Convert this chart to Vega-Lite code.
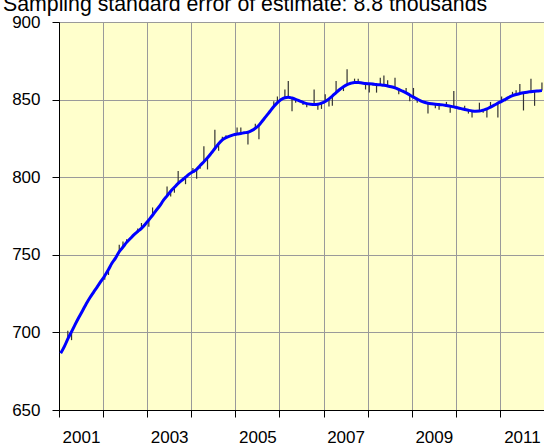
{
  "$schema": "https://vega.github.io/schema/vega-lite/v6.json",
  "width": 485,
  "height": 388,
  "autosize": {"type": "none"},
  "padding": {"left": 59, "top": 22, "right": 0, "bottom": 33},
  "background": "#ffffff",
  "title": {
    "text": "Sampling standard error of estimate: 8.8 thousands",
    "anchor": "start",
    "frame": "group",
    "dx": -56,
    "dy": 21,
    "offset": 2,
    "baseline": "alphabetic",
    "font": "Liberation Sans",
    "fontSize": 21.3,
    "fontWeight": "normal",
    "color": "#000000"
  },
  "config": {
    "view": {"fill": "#FFFFCC", "stroke": "#000000", "strokeWidth": 1},
    "axis": {
      "labelFont": "Liberation Sans",
      "labelFontSize": 17,
      "labelColor": "#000000",
      "domainColor": "#000000",
      "tickColor": "#000000",
      "tickSize": 7,
      "labelPadding": 12,
      "gridColor": "#9a9a9a",
      "gridWidth": 1,
      "title": null
    }
  },
  "data": {
    "values": [
      {"date": "2001-01-15", "trend": 686.5, "sa": 686.5},
      {"date": "2001-02-15", "trend": 691, "sa": 691.5},
      {"date": "2001-03-15", "trend": 695.8, "sa": 701},
      {"date": "2001-04-15", "trend": 700.5, "sa": 695},
      {"date": "2001-05-15", "trend": 705.2, "sa": 705.5},
      {"date": "2001-06-15", "trend": 709.8, "sa": 709.5},
      {"date": "2001-07-15", "trend": 714, "sa": 714.5},
      {"date": "2001-08-15", "trend": 718.5, "sa": 717},
      {"date": "2001-09-15", "trend": 722.5, "sa": 723},
      {"date": "2001-10-15", "trend": 726, "sa": 726},
      {"date": "2001-11-15", "trend": 729.5, "sa": 730},
      {"date": "2001-12-15", "trend": 733, "sa": 733},
      {"date": "2002-01-15", "trend": 736.5, "sa": 734},
      {"date": "2002-02-15", "trend": 740.5, "sa": 737},
      {"date": "2002-03-15", "trend": 744.5, "sa": 745},
      {"date": "2002-04-15", "trend": 748, "sa": 748.5},
      {"date": "2002-05-15", "trend": 752, "sa": 756.5},
      {"date": "2002-06-15", "trend": 755, "sa": 758.5},
      {"date": "2002-07-15", "trend": 758, "sa": 760},
      {"date": "2002-08-15", "trend": 760.5, "sa": 761},
      {"date": "2002-09-15", "trend": 763, "sa": 762.5},
      {"date": "2002-10-15", "trend": 765, "sa": 767},
      {"date": "2002-11-15", "trend": 767, "sa": 770.5},
      {"date": "2002-12-15", "trend": 769.5, "sa": 770},
      {"date": "2003-01-15", "trend": 772.5, "sa": 768},
      {"date": "2003-02-15", "trend": 775.5, "sa": 780.5},
      {"date": "2003-03-15", "trend": 778.5, "sa": 779},
      {"date": "2003-04-15", "trend": 781.5, "sa": 781},
      {"date": "2003-05-15", "trend": 785, "sa": 785.5},
      {"date": "2003-06-15", "trend": 788, "sa": 794},
      {"date": "2003-07-15", "trend": 791, "sa": 787.5},
      {"date": "2003-08-15", "trend": 793.5, "sa": 790},
      {"date": "2003-09-15", "trend": 796, "sa": 804},
      {"date": "2003-10-15", "trend": 798, "sa": 798.5},
      {"date": "2003-11-15", "trend": 800, "sa": 795.5},
      {"date": "2003-12-15", "trend": 802, "sa": 802},
      {"date": "2004-01-15", "trend": 803.5, "sa": 806},
      {"date": "2004-02-15", "trend": 805, "sa": 799},
      {"date": "2004-03-15", "trend": 807.5, "sa": 805.5},
      {"date": "2004-04-15", "trend": 810, "sa": 820},
      {"date": "2004-05-15", "trend": 812.5, "sa": 805},
      {"date": "2004-06-15", "trend": 815.5, "sa": 816},
      {"date": "2004-07-15", "trend": 818.5, "sa": 830.5},
      {"date": "2004-08-15", "trend": 821.5, "sa": 817},
      {"date": "2004-09-15", "trend": 824, "sa": 826},
      {"date": "2004-10-15", "trend": 825.5, "sa": 827},
      {"date": "2004-11-15", "trend": 826.5, "sa": 826.5},
      {"date": "2004-12-15", "trend": 827.3, "sa": 827.5},
      {"date": "2005-01-15", "trend": 827.8, "sa": 832},
      {"date": "2005-02-15", "trend": 828.2, "sa": 832},
      {"date": "2005-03-15", "trend": 828.6, "sa": 828.5},
      {"date": "2005-04-15", "trend": 829, "sa": 821},
      {"date": "2005-05-15", "trend": 830, "sa": 830.5},
      {"date": "2005-06-15", "trend": 831.5, "sa": 834.5},
      {"date": "2005-07-15", "trend": 833.5, "sa": 824.5},
      {"date": "2005-08-15", "trend": 836.5, "sa": 836.5},
      {"date": "2005-09-15", "trend": 839.5, "sa": 840},
      {"date": "2005-10-15", "trend": 842.5, "sa": 842},
      {"date": "2005-11-15", "trend": 845.5, "sa": 849},
      {"date": "2005-12-15", "trend": 848, "sa": 852},
      {"date": "2006-01-15", "trend": 850, "sa": 850.5},
      {"date": "2006-02-15", "trend": 851.2, "sa": 856.5},
      {"date": "2006-03-15", "trend": 851.5, "sa": 862},
      {"date": "2006-04-15", "trend": 851, "sa": 842.5},
      {"date": "2006-05-15", "trend": 850.2, "sa": 848},
      {"date": "2006-06-15", "trend": 849.2, "sa": 849.5},
      {"date": "2006-07-15", "trend": 848.2, "sa": 846.5},
      {"date": "2006-08-15", "trend": 847.4, "sa": 845},
      {"date": "2006-09-15", "trend": 847, "sa": 847.5},
      {"date": "2006-10-15", "trend": 846.8, "sa": 856.5},
      {"date": "2006-11-15", "trend": 847, "sa": 843.5},
      {"date": "2006-12-15", "trend": 847.7, "sa": 844},
      {"date": "2007-01-15", "trend": 848.8, "sa": 853.5},
      {"date": "2007-02-15", "trend": 850.5, "sa": 845.5},
      {"date": "2007-03-15", "trend": 852.3, "sa": 846},
      {"date": "2007-04-15", "trend": 854.5, "sa": 862},
      {"date": "2007-05-15", "trend": 856.5, "sa": 857},
      {"date": "2007-06-15", "trend": 858.3, "sa": 855.5},
      {"date": "2007-07-15", "trend": 859.6, "sa": 869.5},
      {"date": "2007-08-15", "trend": 860.5, "sa": 860},
      {"date": "2007-09-15", "trend": 861, "sa": 863.5},
      {"date": "2007-10-15", "trend": 861, "sa": 863.5},
      {"date": "2007-11-15", "trend": 860.7, "sa": 861},
      {"date": "2007-12-15", "trend": 860.4, "sa": 856.5},
      {"date": "2008-01-15", "trend": 860.2, "sa": 854.5},
      {"date": "2008-02-15", "trend": 860, "sa": 859},
      {"date": "2008-03-15", "trend": 859.8, "sa": 854.5},
      {"date": "2008-04-15", "trend": 859.5, "sa": 864},
      {"date": "2008-05-15", "trend": 859.2, "sa": 865.5},
      {"date": "2008-06-15", "trend": 858.8, "sa": 862.5},
      {"date": "2008-07-15", "trend": 858.3, "sa": 858.5},
      {"date": "2008-08-15", "trend": 857.6, "sa": 864},
      {"date": "2008-09-15", "trend": 856.6, "sa": 853.5},
      {"date": "2008-10-15", "trend": 855.5, "sa": 856},
      {"date": "2008-11-15", "trend": 854.3, "sa": 857.5},
      {"date": "2008-12-15", "trend": 853, "sa": 849},
      {"date": "2009-01-15", "trend": 851.6, "sa": 857.5},
      {"date": "2009-02-15", "trend": 850.3, "sa": 848},
      {"date": "2009-03-15", "trend": 849.2, "sa": 849.5},
      {"date": "2009-04-15", "trend": 848.3, "sa": 848},
      {"date": "2009-05-15", "trend": 847.7, "sa": 841},
      {"date": "2009-06-15", "trend": 847.3, "sa": 847},
      {"date": "2009-07-15", "trend": 847, "sa": 844.5},
      {"date": "2009-08-15", "trend": 846.8, "sa": 843.5},
      {"date": "2009-09-15", "trend": 846.6, "sa": 846.5},
      {"date": "2009-10-15", "trend": 846.2, "sa": 848.5},
      {"date": "2009-11-15", "trend": 845.8, "sa": 841.5},
      {"date": "2009-12-15", "trend": 845.3, "sa": 855.5},
      {"date": "2010-01-15", "trend": 844.8, "sa": 845},
      {"date": "2010-02-15", "trend": 844.2, "sa": 844.5},
      {"date": "2010-03-15", "trend": 843.6, "sa": 846},
      {"date": "2010-04-15", "trend": 843.1, "sa": 841},
      {"date": "2010-05-15", "trend": 842.7, "sa": 838.5},
      {"date": "2010-06-15", "trend": 842.5, "sa": 842.5},
      {"date": "2010-07-15", "trend": 842.6, "sa": 848},
      {"date": "2010-08-15", "trend": 843.2, "sa": 841.5},
      {"date": "2010-09-15", "trend": 844, "sa": 838.5},
      {"date": "2010-10-15", "trend": 845.2, "sa": 848.5},
      {"date": "2010-11-15", "trend": 846.4, "sa": 846},
      {"date": "2010-12-15", "trend": 847.7, "sa": 838.5},
      {"date": "2011-01-15", "trend": 848.9, "sa": 852},
      {"date": "2011-02-15", "trend": 850.2, "sa": 849},
      {"date": "2011-03-15", "trend": 851.4, "sa": 851.5},
      {"date": "2011-04-15", "trend": 852.5, "sa": 855},
      {"date": "2011-05-15", "trend": 853.3, "sa": 856},
      {"date": "2011-06-15", "trend": 853.9, "sa": 860},
      {"date": "2011-07-15", "trend": 854.4, "sa": 843},
      {"date": "2011-08-15", "trend": 854.8, "sa": 855},
      {"date": "2011-09-15", "trend": 855.1, "sa": 863.5},
      {"date": "2011-10-15", "trend": 855.4, "sa": 846},
      {"date": "2011-11-15", "trend": 855.6, "sa": 856},
      {"date": "2011-12-15", "trend": 855.8, "sa": 861}
    ]
  },
  "encoding": {
    "x": {
      "field": "date",
      "type": "temporal",
      "scale": {
        "type": "utc",
        "domain": [
          {"year": 2001, "month": 1, "date": 1, "utc": true},
          {"year": 2012, "month": 1, "date": 1, "utc": true}
        ]
      },
      "axis": {
        "tickCount": {"interval": "year", "step": 1},
        "labelExpr": "utcyear(datum.value) % 2 == 1 ? utcFormat(datum.value, '%Y') : ''",
        "labelOffset": 22,
        "labelFlush": false,
        "labelOverlap": false,
        "labelBound": false,
        "grid": true
      }
    }
  },
  "layer": [
    {
      "mark": {"type": "rule", "color": "#333333", "strokeWidth": 1.2},
      "encoding": {
        "y": {
          "field": "trend",
          "type": "quantitative",
          "scale": {"domain": [650, 900], "nice": false, "zero": false},
          "axis": {"values": [650, 700, 750, 800, 850, 900], "grid": true}
        },
        "y2": {"field": "sa"}
      }
    },
    {
      "mark": {"type": "line", "color": "#0000FF", "strokeWidth": 3, "interpolate": "monotone"},
      "encoding": {
        "y": {"field": "trend", "type": "quantitative"}
      }
    }
  ]
}
